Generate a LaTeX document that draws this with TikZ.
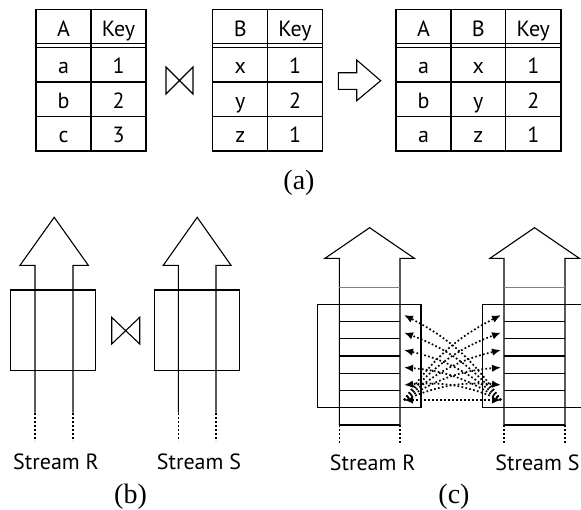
\documentclass[tikz,border=0pt]{standalone}
\usepackage{fontspec}
\setmainfont{Liberation Serif}
\newfontfamily\tabfont{PT Sans}
\usetikzlibrary{arrows.meta}
\begin{document}
\begin{tikzpicture}[x=1pt,y=-1pt,line width=1.1pt,line join=miter,
  cell/.style={font=\tabfont\fontsize{22}{24}\selectfont,inner sep=0pt,anchor=base},
  lbl/.style={font=\tabfont\fontsize{22}{24}\selectfont,inner sep=0pt,anchor=base},
  subcap/.style={font=\fontsize{28}{30}\selectfont,inner sep=0pt,anchor=base},
  tail/.style={line width=1.1pt,dash pattern=on 2pt off 2pt},
  cmp/.style={line width=1.7pt,dash pattern=on 1.7pt off 2.3pt,-{Latex[length=9pt,width=7.5pt]}},
  cmpb/.style={line width=1.7pt,dash pattern=on 1.7pt off 2.3pt,{Latex[length=9pt,width=7.5pt]}-{Latex[length=9pt,width=7.5pt]}}]
\useasboundingbox (0,0) rectangle (581,509);

% ---------- (a) tables ----------
% table 1
\draw (36,9.3) rectangle (146,151);
\draw (91,9.3) -- (91,151);
\draw (36,43.7) -- (146,43.7) (36,47.7) -- (146,47.7);
\draw (36,82) -- (146,82) (36,116.7) -- (146,116.7);
\node[cell] (t1h1) at (63.5,36) {A};
\node[cell] (t1h2) at (118.5,36) {Key};
\node[cell] (t1a) at (63.5,73.3) {a};
\node[cell] (t1a1) at (118.5,73.3) {1};
\node[cell] (t1b) at (63.5,108.3) {b};
\node[cell] (t1b2) at (118.5,108.3) {2};
\node[cell] (t1c) at (63.5,142.7) {c};
\node[cell] (t1c3) at (118.5,142.7) {3};
% join symbol
\draw (166,67) -- (193,94) -- (193,67) -- (166,94) -- cycle;
% table 2
\draw (212.7,9.3) rectangle (322.3,151);
\draw (267.7,9.3) -- (267.7,151);
\draw (212.7,43.7) -- (322.3,43.7) (212.7,47.7) -- (322.3,47.7);
\draw (212.7,82) -- (322.3,82) (212.7,116.7) -- (322.3,116.7);
\node[cell] (t2h1) at (240.2,36) {B};
\node[cell] (t2h2) at (295,36) {Key};
\node[cell] (t2x) at (240.2,73.3) {x};
\node[cell] (t2x1) at (295,73.3) {1};
\node[cell] (t2y) at (240.2,108.3) {y};
\node[cell] (t2y2) at (295,108.3) {2};
\node[cell] (t2z) at (240.2,142.7) {z};
\node[cell] (t2z1) at (295,142.7) {1};
% hollow arrow
\draw (338.3,72.7) -- (356.7,72.7) -- (356.7,60) -- (380.7,80.7) -- (356.7,100.7) -- (356.7,89.3) -- (338.3,89.3) -- cycle;
% table 3
\draw (396,9.3) rectangle (561,151);
\draw (451,9.3) -- (451,151) (505.7,9.3) -- (505.7,151);
\draw (396,43.7) -- (561,43.7) (396,47.7) -- (561,47.7);
\draw (396,82) -- (561,82) (396,116.7) -- (561,116.7);
\node[cell] (t3h1) at (423.5,36) {A};
\node[cell] (t3h2) at (478.3,36) {B};
\node[cell] (t3h3) at (533.3,36) {Key};
\node[cell] (t3r1a) at (423.5,73.3) {a};
\node[cell] (t3r1b) at (478.3,73.3) {x};
\node[cell] (t3r1c) at (533.3,73.3) {1};
\node[cell] (t3r2a) at (423.5,108.3) {b};
\node[cell] (t3r2b) at (478.3,108.3) {y};
\node[cell] (t3r2c) at (533.3,108.3) {2};
\node[cell] (t3r3a) at (423.5,142.7) {a};
\node[cell] (t3r3b) at (478.3,142.7) {z};
\node[cell] (t3r3c) at (533.3,142.7) {1};
\node[subcap] (capa) at (299,189) {(a)};

% ---------- (b) ----------
\draw (35,412.7) -- (35,265.3) -- (20,265.3) -- (54.2,217.3) -- (88.3,265.3) -- (73,265.3) -- (73,412.7);
\draw[tail] (35,412.7) -- (35,440.7) (73,412.7) -- (73,440.7);
\draw (10.7,290) rectangle (95.7,370.7);
\draw (178.3,412.7) -- (178.3,265.3) -- (163.3,265.3) -- (197.2,217.3) -- (231,265.3) -- (216,265.3) -- (216,412.7);
\draw[tail] (178.3,412.7) -- (178.3,440.7) (216,412.7) -- (216,440.7);
\draw (154.7,290) rectangle (239.7,370.7);
\draw (111.7,317.3) -- (139.7,344) -- (139.7,317.3) -- (111.7,344) -- cycle;
\node[lbl] (bR) at (56,469.3) {Stream R};
\node[lbl] (bS) at (199,469.3) {Stream S};
\node[subcap] (capb) at (130.5,503.3) {(b)};

% ---------- (c) ----------
% stream R
\draw (339.3,425) -- (339.3,258.3) -- (325,258.3) -- (369.6,227.7) -- (414.3,258.3) -- (400,258.3) -- (400,425);
\draw[tail] (339.3,425) -- (339.3,443) (400,425) -- (400,443);
\draw[line width=0.6pt,gray] (339.3,287.7) -- (400,287.7);
\foreach \yy in {304.3,321.7,338.7,356,373.3,390.7,407.7,425}
  \draw (339.3,\yy) -- (400,\yy);
\draw (317.3,304.3) rectangle (421,407.7);
% stream S
\draw (504,425) -- (504,258.3) -- (490,258.3) -- (534.5,227.7) -- (579.3,258.3) -- (565,258.3) -- (565,425);
\draw[tail] (504,425) -- (504,443) (565,425) -- (565,443);
\draw[line width=0.6pt,gray] (504,287.7) -- (565,287.7);
\foreach \yy in {304.3,321.7,338.7,356,373.3,390.7,407.7,425}
  \draw (504,\yy) -- (565,\yy);
\draw (581,304.3) -- (482.3,304.3) -- (482.3,407.7) -- (581,407.7);
% comparison arrows
\coordinate (rb) at (404,400);
\coordinate (sb) at (501,400);
\foreach \n/\yy in {1/315,2/332.5,3/350,4/367.5,5/385}{
  \coordinate (r\n) at (404,\yy);
  \coordinate (s\n) at (501,\yy);
  \draw[cmp] (rb) to[bend left=14] (s\n);
  \draw[cmp] (sb) to[bend right=14] (r\n);
}
\draw[cmpb] (rb) -- (sb);
\node[lbl] (cR) at (372.7,470.7) {Stream R};
\node[lbl] (cS) at (537.5,470.7) {Stream S};
\node[subcap] (capc) at (454,503.3) {(c)};
\end{tikzpicture}
\end{document}
